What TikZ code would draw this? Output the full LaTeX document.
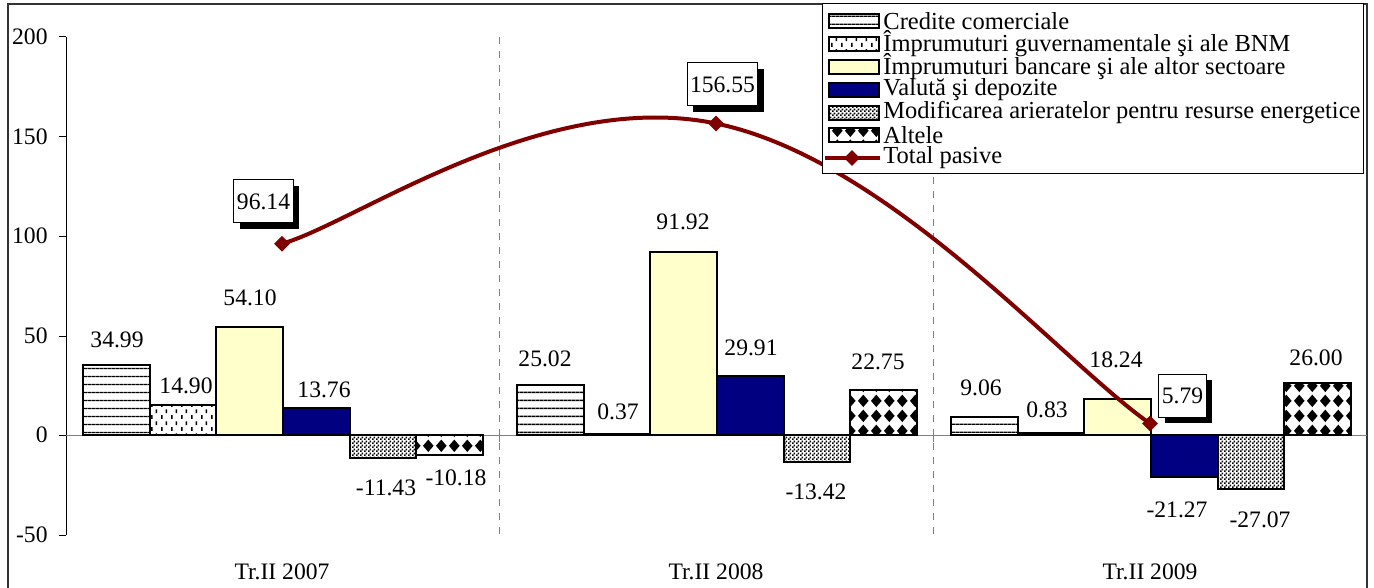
\documentclass[tikz,border=0pt]{standalone}
\usepackage{fontspec}
\setmainfont{Liberation Serif}
\usetikzlibrary{patterns.meta,shapes.geometric,shadows}

\definecolor{totred}{RGB}{128,0,0}
\definecolor{navyb}{RGB}{0,0,128}
\definecolor{paleyel}{RGB}{255,255,204}
\definecolor{axgray}{RGB}{128,128,128}

% fill patterns of the bars
\tikzdeclarepattern{name=hstripes,type=uncolored,
  bounding box={(0pt,0pt) and (2pt,4pt)},tile size={(2pt,4pt)},
  code={\draw[line width=0.7pt] (-0.2pt,2pt) -- (2.2pt,2pt);}}
\tikzdeclarepattern{name=vdashes,type=uncolored,
  bounding box={(0pt,0pt) and (5pt,6pt)},tile size={(5pt,6pt)},
  code={\draw[line width=0.8pt] (1pt,0.6pt) -- (1pt,2.6pt);
        \draw[line width=0.8pt] (3.5pt,3.6pt) -- (3.5pt,5.6pt);}}
\tikzdeclarepattern{name=checks,type=uncolored,
  bounding box={(0pt,0pt) and (2pt,2pt)},tile size={(2pt,2pt)},
  code={\fill (0pt,0pt) rectangle (1pt,1pt);
        \fill (1pt,1pt) rectangle (2pt,2pt);}}
\tikzdeclarepattern{name=bigdiam,type=uncolored,
  bounding box={(0pt,0pt) and (6.6pt,7.5pt)},tile size={(6.6pt,7.5pt)},
  code={\fill (3.3pt,0.5pt) -- (6.1pt,3.75pt) -- (3.3pt,7.0pt) -- (0.5pt,3.75pt) -- cycle;}}

\begin{document}
\begin{tikzpicture}[x=0.5pt,y=-0.5pt,
    font=\fontsize{11.8}{13.6}\selectfont,
    bar/.style={draw=black,line width=1pt},
    crd/.style={bar,preaction={fill=white},pattern=hstripes,pattern color=black},
    guv/.style={bar,preaction={fill=white},pattern=vdashes,pattern color=black},
    banc/.style={bar,fill=paleyel},
    valu/.style={bar,fill=navyb},
    arier/.style={bar,preaction={fill=white},pattern=checks,pattern color=black},
    alt/.style={bar,preaction={fill=white},pattern=bigdiam,pattern color=black},
    tot/.style={draw=totred,line width=2pt},
    mk/.style={diamond,fill=totred,inner sep=0pt,minimum width=8pt,minimum height=8pt},
    lbl/.style={inner sep=0pt},
    leg/.style={inner sep=0pt,anchor=west,font=\fontsize{12.25}{14}\selectfont},
    totbox/.style={draw=black,fill=white,line width=0.5pt,inner xsep=1.5pt,inner ysep=0pt,
      minimum height=21.5pt,
      drop shadow={shadow xshift=3pt,shadow yshift=-3pt,fill=black,opacity=1}},
    sep/.style={draw=axgray,line width=0.5pt,dash pattern=on 3.5pt off 3.5pt}]
  \useasboundingbox (0,0) rectangle (1374,588);

  % frame
  \draw[line width=1pt,draw=black!80] (8,590) -- (8,4) -- (1367,4) -- (1367,590);

  % category separators and axes
  \draw[sep] (499,37) -- (499,535);
  \draw[sep] (933,37) -- (933,535);
  \draw[line width=0.5pt] (66,37) -- (66,535);
  \draw[line width=0.5pt,draw=axgray] (66,435) -- (1367,435);
  \draw[line width=0.5pt,draw=axgray] (499,435) -- (499,442) (933,435) -- (933,442);
  \draw[line width=0.5pt] (59,37) -- (66,37) (59,137) -- (66,137) (59,236) -- (66,236)
    (59,336) -- (66,336) (59,435) -- (66,435) (59,535) -- (66,535);
  \node[lbl,anchor=east] (y200) at (48,37)  {200};
  \node[lbl,anchor=east] (y150) at (48,137) {150};
  \node[lbl,anchor=east] (y100) at (48,236) {100};
  \node[lbl,anchor=east] (y50)  at (48,336) {50};
  \node[lbl,anchor=east] (y0)   at (48,435) {0};
  \node[lbl,anchor=east] (ym50) at (48,535) {-50};

  % bars Tr.II 2007
  \draw[crd]   (83,435)  rectangle (150,365.4);
  \draw[guv]   (150,435) rectangle (216,405.3);
  \draw[banc]  (216,435) rectangle (283,327.3);
  \draw[valu]  (283,435) rectangle (350,407.6);
  \draw[arier] (350,435) rectangle (416,457.7);
  \draw[alt]   (416,435) rectangle (483,455.3);
  % bars Tr.II 2008
  \draw[crd]   (517,435) rectangle (584,385.2);
  \draw[guv]   (584,435) rectangle (650,434.3);
  \draw[banc]  (650,435) rectangle (717,252.1);
  \draw[valu]  (717,435) rectangle (784,375.5);
  \draw[arier] (784,435) rectangle (850,461.7);
  \draw[alt]   (850,435) rectangle (917,389.7);
  % bars Tr.II 2009
  \draw[crd]   (951,435)  rectangle (1018,417.0);
  \draw[guv]   (1018,435) rectangle (1084,433.3);
  \draw[banc]  (1084,435) rectangle (1151,398.7);
  \draw[valu]  (1151,435) rectangle (1218,477.3);
  \draw[arier] (1218,435) rectangle (1284,488.9);
  \draw[alt]   (1284,435) rectangle (1351,383.3);

  % value labels
  \node[lbl] (a1) at (117,340) {34.99};
  \node[lbl] (a2) at (186,386) {14.90};
  \node[lbl] (a3) at (250,298) {54.10};
  \node[lbl] (a4) at (324,390) {13.76};
  \node[lbl] (a5) at (386,488) {-11.43};
  \node[lbl] (a6) at (456,478) {-10.18};
  \node[lbl] (b1) at (545,359) {25.02};
  \node[lbl] (b2) at (618,412) {0.37};
  \node[lbl] (b3) at (683,222) {91.92};
  \node[lbl] (b4) at (751,348) {29.91};
  \node[lbl] (b5) at (816,492) {-13.42};
  \node[lbl] (b6) at (878,362) {22.75};
  \node[lbl] (c1) at (981,388)  {9.06};
  \node[lbl] (c2) at (1047,410) {0.83};
  \node[lbl] (c3) at (1116,360) {18.24};
  \node[lbl] (c4) at (1177,510) {-21.27};
  \node[lbl] (c5) at (1260,520) {-27.07};
  \node[lbl] (c6) at (1316,358) {26.00};

  % total line
  \node[mk] (t1) at (282,243.7) {};
  \node[mk] (t2) at (716,123.5) {};
  \node[mk] (t3) at (1150,423.5) {};
  \draw[tot] (t1.center) .. controls +(72,-20) and +(-173.6,-35.9) .. (t2.center)
    .. controls +(173.6,35.9) and +(-86.8,-60) .. (t3.center);
  \node[totbox] (p1) at (263.5,201.5) {96.14};
  \node[totbox] (p2) at (722.5,84.5)  {156.55};
  \node[totbox] (p3) at (1182.5,395.5) {5.79};

  % categories
  \node[lbl] (k1) at (282,572)  {Tr.II 2007};
  \node[lbl] (k2) at (716,572)  {Tr.II 2008};
  \node[lbl] (k3) at (1150,572) {Tr.II 2009};

  % legend
  \draw[fill=white,line width=0.5pt] (822,4) rectangle (1363,174);
  \draw[crd]   (829,14)  rectangle (879,28);
  \draw[guv]   (829,37)  rectangle (879,51);
  \draw[banc]  (829,60)  rectangle (879,74);
  \draw[valu]  (829,83)  rectangle (879,97);
  \draw[arier] (829,106) rectangle (879,120);
  \draw[alt]   (829,128) rectangle (879,142);
  \draw[tot] (825,158) -- (880,158);
  \node[mk] (lm) at (852,158) {};
  \node[leg] (e1) at (883,21)  {Credite comerciale};
  \node[leg] (e2) at (883,44)  {Împrumuturi guvernamentale şi ale BNM};
  \node[leg] (e3) at (883,67)  {Împrumuturi bancare şi ale altor sectoare};
  \node[leg] (e4) at (883,90)  {Valută şi depozite};
  \node[leg] (e5) at (883,113) {Modificarea arieratelor pentru resurse energetice};
  \node[leg] (e6) at (883,135) {Altele};
  \node[leg] (e7) at (883,158) {Total pasive};
\end{tikzpicture}
\end{document}
